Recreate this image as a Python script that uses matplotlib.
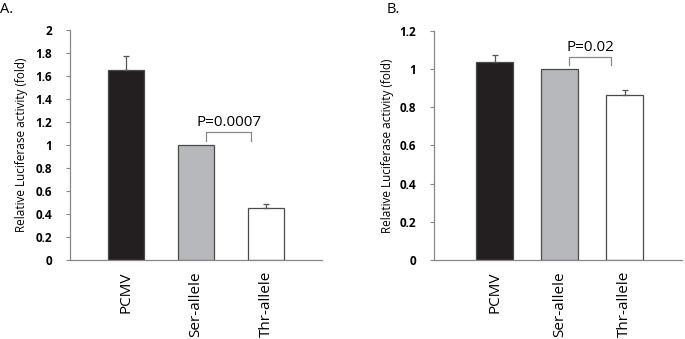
import matplotlib
matplotlib.use("Agg")
import matplotlib.pyplot as plt

plt.rcParams['font.family'] = ['Open Sans', 'DejaVu Sans']

# data
groups = ["PCMV", "Ser-allele", "Thr-allele"]
colors = ["#231f20", "#b7b8bb", "#ffffff"]

valsA = [1.65, 1.0, 0.45]
errA = [0.12, 0.0, 0.04]
valsB = [1.036, 1.0, 0.865]
errB = [0.04, 0.0, 0.025]

pA = "P=0.0007"
pB = "P=0.02"

fig = plt.figure(figsize=(6.85, 3.39), dpi=100)

def panel(rect, vals, errs, ymax, yticks, xlim, width, ptext, br_y, br_drop, label, lx, ylx):
    ax = fig.add_axes(rect)
    x = list(range(len(groups)))
    ax.bar(x, vals, width=width, color=colors, edgecolor="#4a4a4a", linewidth=0.9, zorder=2)
    # only the bars that have an error
    ex = [i for i in x if errs[i] > 0]
    ax.errorbar(ex, [vals[i] for i in ex], yerr=[[0] * len(ex), [errs[i] for i in ex]],
                fmt="none", ecolor="#555555", elinewidth=0.9, capsize=2.5, capthick=0.9, zorder=3)
    ax.set_xlim(*xlim)
    ax.set_ylim(0, ymax)
    ax.set_yticks(yticks)
    ax.set_yticklabels([("%g" % t) for t in yticks], fontweight="bold", fontsize=8.5)
    ax.set_xticks(x)
    ax.set_xticklabels(groups, rotation=90, fontsize=11)
    ax.tick_params(axis="x", length=0, pad=8)
    ax.tick_params(axis="y", length=3, color="#888888", pad=10)
    for s in ["top", "right"]:
        ax.spines[s].set_visible(False)
    for s in ["left", "bottom"]:
        ax.spines[s].set_color("#888888")
        ax.spines[s].set_linewidth(0.9)
    ax.set_ylabel("Relative Luciferase activity (fold)", fontsize=8.5)
    ax.yaxis.set_label_coords(ylx, 0.5)
    # significance bracket
    x1, x2 = 1.15, 1.79
    ax.plot([x1, x1, x2, x2], [br_y - br_drop, br_y, br_y, br_y - br_drop],
            color="#888888", lw=0.9, zorder=4)
    ax.text((x1 + x2) / 2, br_y + ymax * 0.008, ptext, ha="center", va="bottom", fontsize=11)
    fig.text(lx, 0.995, label, ha="left", va="top", fontsize=10.5)
    return ax

panel([0.102, 0.233, 0.368, 0.679], valsA, errA, 2.0,
      [0, 0.2, 0.4, 0.6, 0.8, 1, 1.2, 1.4, 1.6, 1.8, 2],
      (-0.8, 2.8), 0.51, pA, 1.11, 0.08, "A.", 0.0, -0.165)
panel([0.6336, 0.233, 0.362, 0.676], valsB, errB, 1.2,
      [0, 0.2, 0.4, 0.6, 0.8, 1, 1.2],
      (-0.93, 2.88), 0.57, pB, 1.062, 0.042, "B.", 0.565, -0.16)

fig.savefig("out.png", dpi=100)
